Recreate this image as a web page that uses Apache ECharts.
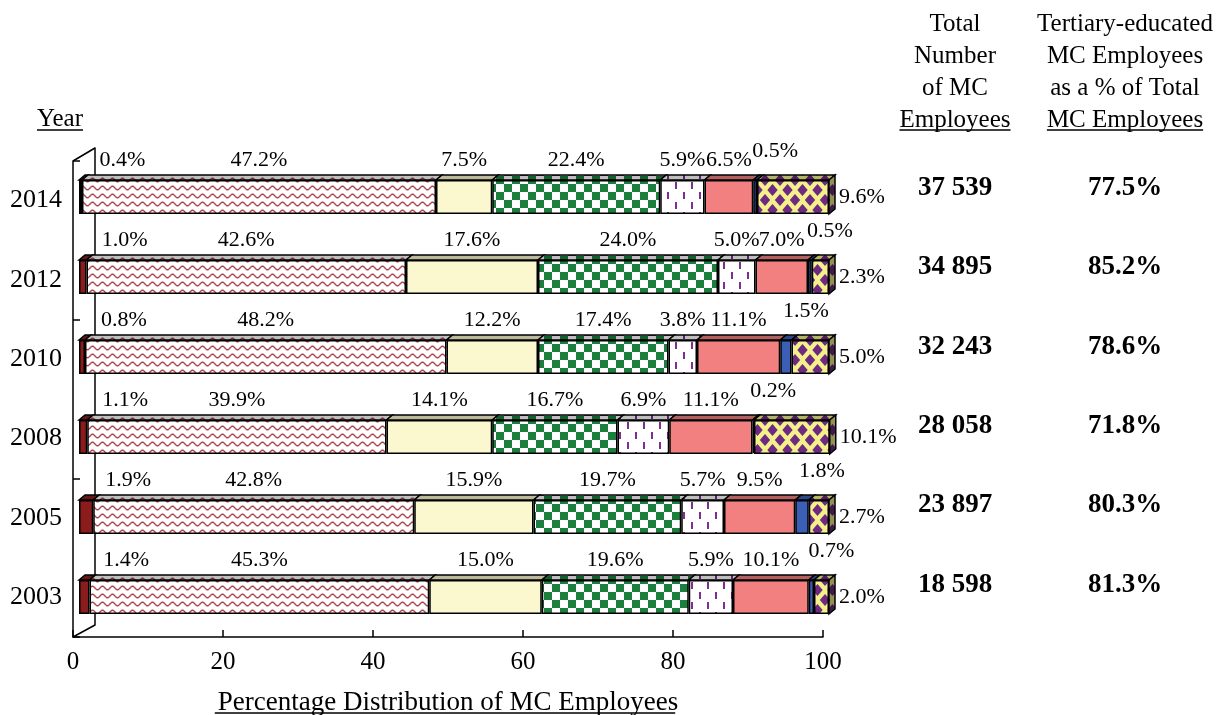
<!DOCTYPE html>
<html>
<head>
<meta charset="utf-8">
<title>Percentage Distribution of MC Employees</title>
<script src="https://cdn.jsdelivr.net/npm/echarts@6/dist/echarts.min.js"></script>
<style>
html,body{margin:0;padding:0;background:#fff;}
#chart{width:1229px;height:715px;}
</style>
</head>
<body>
<div id="chart"></div>
<script>
// data (years top to bottom)
var years = ['2014', '2012', '2010', '2008', '2005', '2003'];
var share1 = [0.4, 1.0, 0.8, 1.1, 1.9, 1.4];
var share2 = [47.2, 42.6, 48.2, 39.9, 42.8, 45.3];
var share3 = [7.5, 17.6, 12.2, 14.1, 15.9, 15.0];
var share4 = [22.4, 24.0, 17.4, 16.7, 19.7, 19.6];
var share5 = [5.9, 5.0, 3.8, 6.9, 5.7, 5.9];
var share6 = [6.5, 7.0, 11.1, 11.1, 9.5, 10.1];
var share7 = [0.5, 0.5, 1.5, 0.2, 1.8, 0.7];
var share8 = [9.6, 2.3, 5.0, 10.1, 2.7, 2.0];
var totalEmployees = ['37 539', '34 895', '32 243', '28 058', '23 897', '18 598'];
var tertiaryPct = ['77.5%', '85.2%', '78.6%', '71.8%', '80.3%', '81.3%'];
var xTicks = {min: 0, max: 100, interval: 20};

var shares = [share1, share2, share3, share4, share5, share6, share7, share8];

var FONT = '"Liberation Serif", "Times New Roman", serif';
var BAR_H = 34, DX = 6, DY = 5;

function tile(w, h, draw){
    var c = document.createElement('canvas');
    c.width = w; c.height = h;
    draw(c.getContext('2d'), w, h);
    return c;
}
function pattern(c){ return {image: c, repeat: 'repeat'}; }

var zigzag = tile(10, 8, function(g, w, h){
    g.fillStyle = '#fff'; g.fillRect(0, 0, w, h);
    g.strokeStyle = '#B0474F'; g.lineWidth = 1.4;
    g.beginPath();
    for(var x = -1; x <= w + 1; x += 0.5){
        var y = 4 - 1.8 * Math.sin(Math.PI * 2 * x / w);
        if(x === -1){g.moveTo(x, y);}else{g.lineTo(x, y);}
    }
    g.stroke();
});
var checker = tile(16, 16, function(g, w, h){
    g.fillStyle = '#fff'; g.fillRect(0, 0, w, h);
    g.fillStyle = '#1B7F3E';
    g.fillRect(0, 0, 8, 8); g.fillRect(8, 8, 8, 8);
});
var dashes = tile(16, 20, function(g, w, h){
    g.fillStyle = '#fff'; g.fillRect(0, 0, w, h);
    g.fillStyle = '#7E2F90';
    g.fillRect(3, 2, 2, 7); g.fillRect(11, 12, 2, 7);
});
var diamonds = tile(15, 20, function(g, w, h){
    g.fillStyle = '#F4F08C'; g.fillRect(0, 0, w, h);
    g.fillStyle = '#6D2A80';
    [[0,0],[15,0],[0,20],[15,20],[7.5,10]].forEach(function(p){
        g.beginPath();
        g.moveTo(p[0], p[1] - 6); g.lineTo(p[0] + 5.2, p[1]);
        g.lineTo(p[0], p[1] + 6); g.lineTo(p[0] - 5.2, p[1]);
        g.closePath(); g.fill();
    });
});

var fills = ['#8B1C1C', pattern(zigzag), '#FBF8CF', pattern(checker), pattern(dashes), '#F28080', '#3B5FB5', pattern(diamonds)];

function pct(p){ return p.value.toFixed(1) + '%'; }

var barSeries = shares.map(function(arr, i){
    var label = {show: true, position: 'top', distance: 9, color: '#000', fontFamily: FONT, fontSize: 22, formatter: pct};
    if(i == 0){label.offset = [42, 0];}
    if(i == 6){label.offset = [20, -9];}
    if(i == 7){label.position = 'right'; label.distance = 10;}
    return {
        type: 'bar', stack: 'share', xAxisIndex: 1, yAxisIndex: 2,
        barWidth: BAR_H, clip: false, z: 2,
        itemStyle: {color: fills[i], borderColor: '#000', borderWidth: 1.5},
        label: label,
        emphasis: {disabled: true},
        data: arr
    };
});

// top faces + end face for the 3D look, from the same stacked values
var faceData = [];
for(var c = 0; c < shares.length; c++){
    for(var y = 0; y < years.length; y++){
        var s = 0;
        for(var k = 0; k < c; k++){ s += shares[k][y]; }
        faceData.push([s, s + shares[c][y], y, c]);
    }
}
var faceSeries = {
    type: 'custom', xAxisIndex: 1, yAxisIndex: 2, z: 3, clip: false, silent: true,
    encode: {x: [0, 1], y: 2},
    renderItem: function(params, api){
        var yi = api.value(2), ci = api.value(3);
        var a = api.coord([api.value(0), yi]), b = api.coord([api.value(1), yi]);
        var top = a[1] - BAR_H / 2, bot = a[1] + BAR_H / 2;
        var pts = [[a[0], top], [a[0] + DX, top - DY], [b[0] + DX, top - DY], [b[0], top]];
        var kids = [
            {type: 'polygon', shape: {points: pts}, style: {fill: fills[ci]}},
            {type: 'polygon', shape: {points: pts}, style: {fill: 'rgba(0,0,0,0.25)', stroke: '#000', lineWidth: 1.5}}
        ];
        if(ci == shares.length - 1){
            var side = [[b[0], top], [b[0] + DX, top - DY], [b[0] + DX, bot - DY], [b[0], bot]];
            kids.push({type: 'polygon', shape: {points: side}, style: {fill: fills[ci]}});
            kids.push({type: 'polygon', shape: {points: side}, style: {fill: 'rgba(0,0,0,0.4)', stroke: '#000', lineWidth: 1.5}});
        }
        return {type: 'group', children: kids};
    },
    data: faceData
};

var mctx = document.createElement('canvas').getContext('2d');
function textW(str, size){ mctx.font = size + 'px ' + FONT; return mctx.measureText(str).width; }
function underline(cx, y, str, size){
    var w = textW(str, size);
    return {type: 'line', silent: true, shape: {x1: cx - w / 2, y1: y, x2: cx + w / 2, y2: y}, style: {stroke: '#000', lineWidth: 1.3}};
}
function header(cx, str, size){
    return {type: 'text', silent: true, style: {text: str, x: cx, y: 8, align: 'center', verticalAlign: 'top', lineHeight: 32, fill: '#000', font: size + 'px ' + FONT}};
}

var axisLine = {show: true, lineStyle: {color: '#000', width: 1.5}};

var option = {
    animation: false,
    backgroundColor: '#fff',
    grid: [
        {left: 73, top: 161, width: 750, height: 476, outerBoundsMode: 'none'},
        {left: 79, top: 157, width: 750, height: 480, outerBoundsMode: 'none'},
        {left: 95, top: 148, width: 728, height: 477, outerBoundsMode: 'none'}
    ],
    xAxis: [
        {gridIndex: 0, type: 'value', min: xTicks.min, max: xTicks.max, interval: xTicks.interval,
         axisLine: axisLine, axisTick: {show: true, inside: true, length: 7, lineStyle: {color: '#000', width: 1.5}},
         axisLabel: {color: '#000', fontFamily: FONT, fontSize: 25, margin: 13},
         splitLine: {show: false},
         name: 'Percentage Distribution of MC Employees', nameLocation: 'middle', nameGap: 52,
         nameTextStyle: {color: '#000', fontFamily: FONT, fontSize: 27}},
        {gridIndex: 1, type: 'value', min: xTicks.min, max: xTicks.max, show: false},
        {gridIndex: 2, type: 'value', min: 0, max: 100, show: false}
    ],
    yAxis: [
        {gridIndex: 0, type: 'category', data: years, inverse: true,
         axisLine: axisLine, axisTick: {show: true, inside: true, interval: 1, length: 7, lineStyle: {color: '#000', width: 1.5}},
         axisLabel: {color: '#000', fontFamily: FONT, fontSize: 26, margin: 11, padding: [8, 0, 0, 0]}},
        {gridIndex: 0, type: 'category', data: years, inverse: true, position: 'right',
         axisLine: {show: false}, axisTick: {show: false},
         axisLabel: {margin: 57, padding: [0, 0, 25, 0],
            formatter: function(v, i){ return '{n|' + totalEmployees[i] + '}{p|' + tertiaryPct[i] + '}'; },
            rich: {
                n: {width: 150, align: 'center', color: '#000', fontFamily: FONT, fontSize: 27, fontWeight: 'bold'},
                p: {width: 190, align: 'center', color: '#000', fontFamily: FONT, fontSize: 27, fontWeight: 'bold'}
            }}},
        {gridIndex: 1, type: 'category', data: years, inverse: true, show: false},
        {gridIndex: 2, type: 'value', min: 0, max: 1,
         axisLine: axisLine, axisTick: {show: false}, axisLabel: {show: false}, splitLine: {show: false}}
    ],
    graphic: [
        {type: 'line', silent: true, shape: {x1: 73, y1: 161, x2: 95, y2: 148}, style: {stroke: '#000', lineWidth: 1.5}},
        {type: 'line', silent: true, shape: {x1: 73, y1: 637, x2: 95, y2: 625}, style: {stroke: '#000', lineWidth: 1.5}},
        {type: 'text', silent: true, style: {text: 'Year', x: 60, y: 119, align: 'center', verticalAlign: 'middle', fill: '#000', font: '25px ' + FONT}},
        underline(60, 130, 'Year', 25),
        header(955, 'Total\nNumber\nof MC\nEmployees', 25),
        underline(955, 130, 'Employees', 25),
        header(1125, 'Tertiary-educated\nMC Employees\nas a % of Total\nMC Employees', 25),
        underline(1125, 130, 'MC Employees', 25),
        underline(445, 713, 'Percentage Distribution of MC Employees', 27)
    ],
    series: barSeries.concat([faceSeries])
};

var myChart = echarts.init(document.getElementById('chart'));
myChart.setOption(option, true);
window.addEventListener('resize', function(){myChart.resize();});
</script>
</body>
</html>
